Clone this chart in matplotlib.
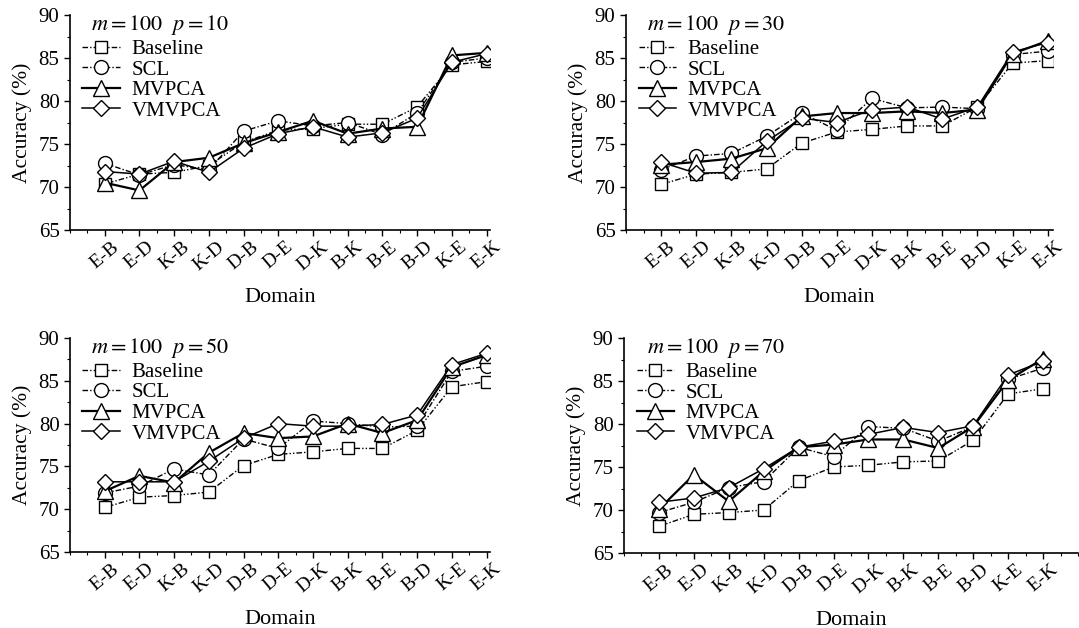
import matplotlib
matplotlib.use("Agg")
import matplotlib.pyplot as plt
from matplotlib.ticker import MultipleLocator

plt.rcParams["font.family"] = ["Liberation Serif", "DejaVu Serif"]
plt.rcParams["mathtext.fontset"] = "stix"

domains = ["E-B", "E-D", "K-B", "K-D", "D-B", "D-E", "D-K", "B-K", "B-E", "B-D", "K-E", "E-K"]
methods = ["Baseline", "SCL", "MVPCA", "VMVPCA"]
p_values = [10, 30, 50, 70]

# accuracy (%), one list per method and panel
base_p10 = [70.35, 71.5, 71.7, 72.5, 75.2, 76.6, 76.8, 77.3, 77.3, 79.3, 84.2, 84.6]
scl_p10 = [72.75, 71.4, 72.6, 72.0, 76.5, 77.7, 77.1, 77.5, 76.1, 78.6, 84.5, 85.0]
mv_p10 = [70.5, 69.6, 72.9, 73.4, 75.1, 76.4, 77.7, 76.2, 76.8, 77.0, 85.3, 85.6]
vm_p10 = [71.8, 71.5, 73.0, 71.7, 74.5, 76.2, 77.0, 75.8, 76.3, 78.0, 84.5, 85.5]

base_p30 = [70.3, 71.5, 71.7, 72.1, 75.1, 76.4, 76.7, 77.1, 77.1, 79.3, 84.4, 84.7]
scl_p30 = [72.0, 73.6, 73.9, 75.9, 78.6, 76.6, 80.3, 79.2, 79.3, 79.1, 85.4, 85.8]
mv_p30 = [72.6, 72.9, 73.3, 74.5, 78.2, 78.6, 78.6, 78.8, 78.6, 79.0, 85.5, 87.0]
vm_p30 = [72.9, 71.6, 71.7, 75.3, 78.0, 77.5, 79.0, 79.3, 77.9, 79.3, 85.7, 86.8]

base_p50 = [70.2, 71.4, 71.6, 72.0, 75.1, 76.4, 76.7, 77.1, 77.1, 79.2, 84.3, 84.9]
scl_p50 = [71.9, 72.7, 74.7, 74.0, 78.2, 77.1, 80.3, 80.0, 79.6, 79.7, 86.1, 86.7]
mv_p50 = [72.1, 73.9, 73.1, 76.6, 78.9, 78.3, 78.5, 80.0, 78.9, 80.4, 86.6, 88.0]
vm_p50 = [73.2, 73.2, 73.2, 75.6, 78.3, 80.0, 79.7, 79.7, 79.9, 81.0, 86.9, 88.2]

base_p70 = [68.1, 69.5, 69.7, 70.0, 73.4, 75.0, 75.2, 75.6, 75.7, 78.1, 83.5, 84.1]
scl_p70 = [69.7, 70.9, 72.6, 73.3, 77.3, 76.2, 79.7, 79.5, 78.0, 79.7, 85.2, 86.5]
mv_p70 = [70.1, 74.1, 71.0, 74.5, 77.3, 77.6, 78.2, 78.2, 77.2, 79.7, 85.1, 87.6]
vm_p70 = [70.9, 71.4, 72.6, 74.8, 77.3, 78.0, 78.8, 79.6, 79.0, 79.8, 85.7, 87.3]

panels = [
    [base_p10, scl_p10, mv_p10, vm_p10],
    [base_p30, scl_p30, mv_p30, vm_p30],
    [base_p50, scl_p50, mv_p50, vm_p50],
    [base_p70, scl_p70, mv_p70, vm_p70],
]

STYLE = {
    "Baseline": dict(ls=(0, (4, 1.5, 1, 1.5, 1, 1.5)), lw=1.0, marker="s", ms=9),
    "SCL": dict(ls=(0, (4, 1.5, 1, 1.5)), lw=1.0, marker="o", ms=10),
    "MVPCA": dict(ls="-", lw=1.6, marker="^", ms=11),
    "VMVPCA": dict(ls="-", lw=1.1, marker="D", ms=8.5),
}

W, H = 1079, 628
# axes boxes in pixels: left, top, right, bottom
boxes = [(70, 15, 490, 230), (626, 15, 1053, 230), (70, 338, 490, 552), (624, 338, 1078, 553)]
xright = [11.1, 11.15, 11.1, 12.0]

fig = plt.figure(figsize=(W / 100, H / 100), dpi=100)
for (l, t, r, b), xr, series, p in zip(boxes, xright, panels, p_values):
    ax = fig.add_axes([l / W, 1 - b / H, (r - l) / W, (b - t) / H])
    x = list(range(len(domains)))
    for name, vals in zip(methods, series):
        st = STYLE[name]
        ax.plot(x, vals, color="black", linestyle=st["ls"], lw=st["lw"], marker=st["marker"],
                ms=st["ms"], mfc="white", mec="black", mew=1.0, label=name)
    ax.set_xlim(-1, xr); ax.set_ylim(65, 90)
    ax.set_xticks(x); ax.set_xticklabels(domains, rotation=40, ha="center", va="top", fontsize=14)
    ax.xaxis.set_minor_locator(MultipleLocator(0.5))
    ax.yaxis.set_major_locator(MultipleLocator(5)); ax.yaxis.set_minor_locator(MultipleLocator(2.5))
    ax.tick_params(which="major", direction="out", length=4, width=1.0, labelsize=15)
    ax.tick_params(axis="x", which="major", labelsize=14, pad=2)
    ax.tick_params(which="minor", direction="out", length=2, width=0.8)
    for s in ["top", "right"]:
        ax.spines[s].set_visible(False)
    for s in ["left", "bottom"]:
        ax.spines[s].set_linewidth(1.2)
    ax.set_ylabel("Accuracy (%)", fontsize=15.5, labelpad=5)
    ax.set_xlabel("Domain", fontsize=16, labelpad=10)
    ax.text(0.05, 1.01, rf"$m = 100\ \ p = {p}$", transform=ax.transAxes, fontsize=16, va="top", ha="left")
    ax.legend(loc="upper left", bbox_to_anchor=(0.0, 0.945), frameon=False, fontsize=15,
              handlelength=1.8, handletextpad=0.55, labelspacing=0.05, borderpad=0.1)

fig.savefig("out.png", dpi=100)
